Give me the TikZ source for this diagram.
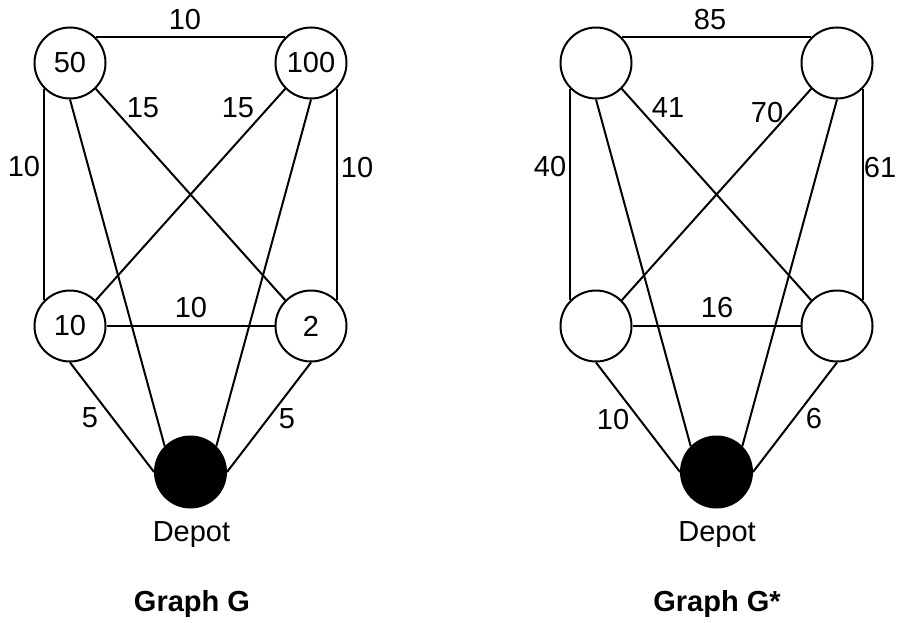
\documentclass[tikz,border=0pt]{standalone}
\usepackage{fontspec}
\setmainfont{Liberation Sans}
\begin{document}
\begin{tikzpicture}[x=1pt,y=-1pt,
  font=\fontsize{29}{35}\selectfont,
  vtx/.style={circle,draw=black,line width=2pt,minimum size=71pt,inner sep=0pt},
  depotnode/.style={vtx,fill=black},
  edge/.style={line width=2pt,black},
  lbl/.style={inner sep=0pt,anchor=base},
  title/.style={inner sep=0pt,anchor=base,font=\fontsize{29}{35}\selectfont\bfseries}]
\useasboundingbox (0,0) rectangle (899,623);
% ---------- Graph G ----------
\node[vtx] (a50) at (70,63) {50};
\node[vtx] (a100) at (311,63) {100};
\node[vtx] (a10) at (70,326) {10};
\node[vtx] (a2) at (311,326) {2};
\node[depotnode] (ad) at (190.5,472) {};
\draw[edge] (a50.north east) -- (a100.north west);
\draw[edge] (a50.south west) -- (a10.north west);
\draw[edge] (a100.south east) -- (a2.north east);
\draw[edge] (a10) -- (a2);
\draw[edge] (a50.south east) -- (a2.north west);
\draw[edge] (a100.south west) -- (a10.north east);
\draw[edge] (a50.south) -- (ad.north west);
\draw[edge] (a100.south) -- (ad.north east);
\draw[edge] (a10.south) -- (ad.west);
\draw[edge] (a2.south) -- (ad.east);
\node[lbl] (la1) at (185,29.5) {10};
\node[lbl] (la2) at (143,117.5) {15};
\node[lbl] (la3) at (238,117.5) {15};
\node[lbl] (la4) at (24,176.5) {10};
\node[lbl] (la5) at (357,177.5) {10};
\node[lbl] (la6) at (191,317.5) {10};
\node[lbl] (la7) at (90,427.5) {5};
\node[lbl] (la8) at (287,428.5) {5};
\node[lbl] (ladepot) at (191.5,541.7) {Depot};
\node[title] (ta) at (192,611.7) {Graph G};
% ---------- Graph G* ----------
\node[vtx] (b1) at (596,63) {};
\node[vtx] (b2) at (837,63) {};
\node[vtx] (b3) at (596,326) {};
\node[vtx] (b4) at (837,326) {};
\node[depotnode] (bd) at (716.5,472) {};
\draw[edge] (b1.north east) -- (b2.north west);
\draw[edge] (b1.south west) -- (b3.north west);
\draw[edge] (b2.south east) -- (b4.north east);
\draw[edge] (b3) -- (b4);
\draw[edge] (b1.south east) -- (b4.north west);
\draw[edge] (b2.south west) -- (b3.north east);
\draw[edge] (b1.south) -- (bd.north west);
\draw[edge] (b2.south) -- (bd.north east);
\draw[edge] (b3.south) -- (bd.west);
\draw[edge] (b4.south) -- (bd.east);
\node[lbl] (lb1) at (710,29.5) {85};
\node[lbl] (lb2) at (668,117.5) {41};
\node[lbl] (lb3) at (767,122.5) {70};
\node[lbl] (lb4) at (550,176.5) {40};
\node[lbl] (lb5) at (880,177.5) {61};
\node[lbl] (lb6) at (717,317.5) {16};
\node[lbl] (lb7) at (613,429.5) {10};
\node[lbl] (lb8) at (814,428.5) {6};
\node[lbl] (lbdepot) at (717,541.7) {Depot};
\node[title] (tb) at (717,611.7) {Graph G*};
\end{tikzpicture}
\end{document}
